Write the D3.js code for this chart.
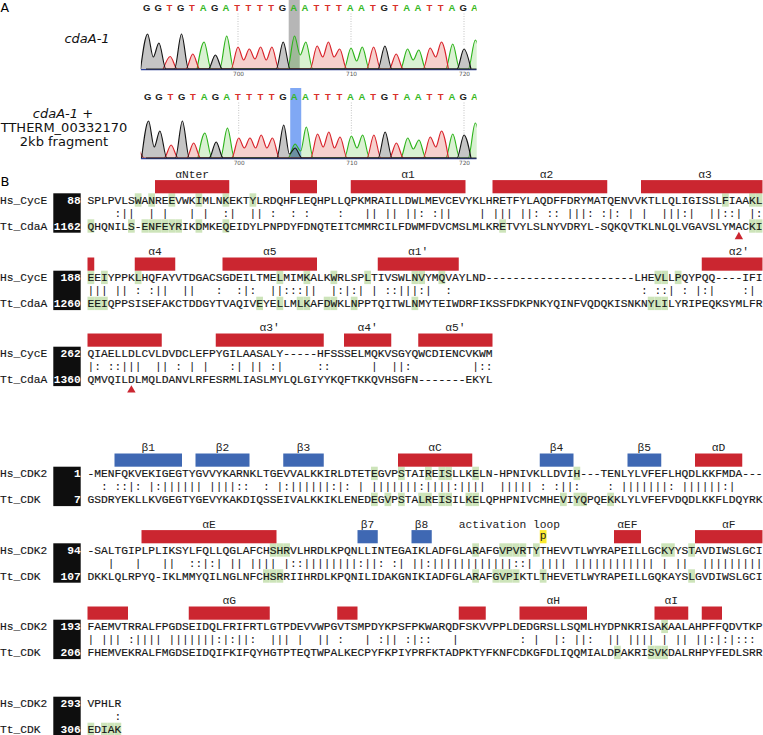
<!DOCTYPE html>
<html><head><meta charset="utf-8">
<script src="https://cdn.jsdelivr.net/npm/d3@7"></script>
<style>
html,body{margin:0;padding:0;background:#fff}
svg{display:block}
text{white-space:pre}
</style></head><body><svg id="c" width="763" height="735"></svg>
<script>
// ---------- Panel A data ----------
const firstBase = 692;
const baseCalls = "GGTGTAGATTTTGAATTTAATGTAATTAGA";
const heightsTop = [35,26,12.5,35,15,27,14,33,22,20,22,22,27,33,27,23,27,20,21,22,22,23,15,20,19,21,27,25,20,29];
const valleysTop = [12,0,0,0,0,0,0,0,9,10,9,0,0,14,0,12,12,0,8,0,0,0,0,9,0,12,0,0,0,0];
const heightsBottom = [37,27,13,37,15,25,16,30,20,20,23,20,33,14,31,24,26,21,22,23,23,26,15,20,18,21,27,24,23,35];
const valleysBottom = [11,0,0,0,0,0,0,0,10,10,10,0,4,7,0,11,10,0,10,0,0,0,0,9,0,11,0,0,0,0];
const extraBottom = [{base:705,call:"G",h:10},{base:691,call:"T",h:9}];
const sangerTicks = [700,710,720];

// ---------- Panel B data ----------
const hsCycE1="SPLPVLSWANREEVWKIMLNKEKTYLRDQHFLEQHPLLQPKMRAILLDWLMEVCEVYKLHRETFYLAQDFFDRYMATQENVVKTLLQLIGISSLFIAAKL";
const cons1  ="    :||  | |   | |  :|  || :  : :    :   || || ||: :||    | ||| ||: :: |||: :|: | |  |||:|  ||::| |:";
const ttCdaA1="QHQNILS-ENFEYRIKDMKEQEIDYLPNPDYFDNQTEITCMMRCILFDWMFDVCMSLMLKRETVYLSLNYVDRYL-SQKQVTKLNLQLVGAVSLYMACKI";
const hsCycE2="EEIYPPKLHQFAYVTDGACSGDEILTMELMIMKALKWRLSPLTIVSWLNVYMQVAYLND----------------------LHEVLLPQYPQQ----IFI";
const cons2  ="||| || : :||  ||   :  :|:  ||:::||  |:|:| | ::|||:|  :                            : ::| : |:|    :| ";
const ttCdaA2="EEIQPPSISEFAKCTDDGYTVAQIVEYELLMLKAFDWKLNPPTQITWLNMYTEIWDRFIKSSFDKPNKYQINFVQDQKISNKNYLILYRIPEQKSYMLFR";
const hsCycE3="QIAELLDLCVLDVDCLEFPYGILAASALY-----HFSSSELMQKVSGYQWCDIENCVKWM";
const cons3  ="|: ::|||  || : | |   :| || :|     ::      |  ||:         |::";
const ttCdaA3="QMVQILDLMQLDANVLRFESRMLIASLMYLQLGIYYKQFTKKQVHSGFN-------EKYL";
const hsCDK1="-MENFQKVEKIGEGTYGVVYKARNKLTGEVVALKKIRLDTETEGVPSTAIREISLLKELN-HPNIVKLLDVIH---TENLYLVFEFLHQDLKKFMDA---";
const consK1="  : ::|: |:|||||| ||||::  : |:||||||:|: | |||||||:||||:||||  ||||| : :||:    : |||||||: ||||||:|    ";
const ttCDK1="GSDRYEKLLKVGEGTYGEVYKAKDIQSSEIVALKKIKLENEDEGVPSTALREISILKELQPHPNIVCMHEVIYQPQEKKLYLVFEFVDQDLKKFLDQYRK";
const hsCDK2="-SALTGIPLPLIKSYLFQLLQGLAFCHSHRVLHRDLKPQNLLINTEGAIKLADFGLARAFGVPVRTYTHEVVTLWYRAPEILLGCKYYSTAVDIWSLGCI";
const consK2="   |   |   ||  ::|:| || |||| |::||||||||:||: :| ||:||||||||||||::| |||| |||||||||||| | ||  |||||||||";
const ttCDK2="DKKLQLRPYQ-IKLMMYQILNGLNFCHSRRIIHRDLKPQNILIDAKGNIKIADFGLARAFGVPIKTLTHEVETLWYRAPEILLGQKAYSLGVDIWSLGCI";
const hsCDK3="FAEMVTRRALFPGDSEIDQLFRIFRTLGTPDEVVWPGVTSMPDYKPSFPKWARQDFSKVVPPLDEDGRSLLSQMLHYDPNKRISAKAALAHPFFQDVTKP";
const consK3="| ||| :|||| |||||||:|:||:  ||| |  || :   | :|| :|::   |         : |  |: ||:  || |||| | || ||:|:|:::";
const ttCDK3="FHEMVEKRALFMGDSEIDQIFKIFQYHGTPTEQTWPALKECPYFKPIYPRFKTADPKTYFKNFCDKGFDLIQQMIALDPAKRISVKDALRHPYFEDLSRR";
const hsCDK4="VPHLR", consK4="    :", ttCDK4="EDIAK";

const blockNames = [["Hs_CycE","Tt_CdaA"],["Hs_CycE","Tt_CdaA"],["Hs_CycE","Tt_CdaA"],["Hs_CDK2","Tt_CDK"],["Hs_CDK2","Tt_CDK"],["Hs_CDK2","Tt_CDK"],["Hs_CDK2","Tt_CDK"]];
const startNumbers = [[88,1162],[188,1260],[262,1360],[1,7],[94,107],[193,206],[293,306]];
const upperSeqs = [hsCycE1,hsCycE2,hsCycE3,hsCDK1,hsCDK2,hsCDK3,hsCDK4];
const middleSeqs = [cons1,cons2,cons3,consK1,consK2,consK3,consK4];
const lowerSeqs = [ttCdaA1,ttCdaA2,ttCdaA3,ttCDK1,ttCDK2,ttCDK3,ttCDK4];

// secondary structure: [row, first column, end column, type, label, label column]
const structure = [
 [0,10,21,"a","αNter",15.5],[0,30,34,"a","",0],[0,39,56,"a","α1",47.5],[0,60,77,"a","α2",68],[0,82,100,"a","α3",91.5],
 [1,0,1,"a","",0],[1,7,13,"a","α4",10],[1,20,34,"a","α5",27],[1,43,55,"a","α1′",49],[1,91,100,"a","α2′",96.5],
 [2,0,11,"a","",0],[2,19,35,"a","α3′",27],[2,38,45,"a","α4′",41.5],[2,49,60,"a","α5′",54.5],
 [3,4,14,"b","β1",9],[3,16,24,"b","β2",20],[3,29,35,"b","β3",32],[3,46,57,"a","αC",51.5],[3,67,72,"b","β4",69.5],[3,80,85,"b","β5",82.5],[3,90,97,"a","αD",93.5],
 [4,8,28,"a","αE",18],[4,40,43,"b","β7",41.5],[4,48,51,"b","β8",49.5],[4,78,82,"a","αEF",80],[4,90,100,"a","αF",95],
 [5,0,6,"a","",0],[5,15,27,"a","αG",21],[5,37,40,"a","",0],[5,55,59,"a","",0],[5,64,74,"a","αH",69],[5,84,89,"a","αI",86.5],[5,91,94,"a","",0]
];
// highlighted residues: row -> columns
const hlUpper = [
 [7,9,12,16,20,24,94,98,99],
 [0,2,7,28,32,36,41,48,49,52,84,85,87],
 [],
 [42,46,50,52,53,57,72],
 [27,28,29,57,61,62,63,64,66,85,86,89],
 [85],
 []
];
const hlLower = [
 [0,6,8,9,10,11,12,13,16,20,61,98,99],
 [0,1,2,25,28,31,32,35,36,39,48,83,84,85],
 [],
 [42,44,46,49,50,52,53,56,57,70,72,73,77],
 [26,27,28,57,60,61,62,63,67,89],
 [78,83,84,85],
 [0,2,3,4]
];
const markerCols = [[0,96],[2,6]];
const activationLoop = {row:4,col:67,text:"activation loop",labelCol:62.5,site:"p"};

// ---------- Colours & layout ----------
const RED="#cb2630", BLUE="#3f68b3", GREEN="#cde4ba", YEL="#fbe92e";
const MONO='"Liberation Mono",monospace', SANS='"DejaVu Sans",sans-serif';
const FS=11.25;
const rowTops=[193.3,270.7,346.7,466.7,543.3,619.7,696.7];

const svg=d3.select("#c");
svg.append("rect").attr("width",763).attr("height",735).attr("fill","#fff");
const col=d3.scaleLinear().domain([0,100]).range([87.5,762.5]);

// ---- panel letters ----
svg.append("text").attr("x",0.5).attr("y",11.8).attr("font-family",SANS).attr("font-size",12.5).text("A");
svg.append("text").attr("x",0.5).attr("y",186).attr("font-family",SANS).attr("font-size",13).text("B");

// ---- panel A ----
const sideLabels=[
 {t:"cdaA-1",x:87,y:43,i:true},
 {t:"cdaA-1 +",x:63,y:117.5,i:true},
 {t:"TTHERM_00332170",x:64,y:131.5,i:false},
 {t:"2kb fragment",x:64,y:145.5,i:false}];
svg.selectAll("text.side").data(sideLabels).join("text").attr("class","side")
 .attr("x",d=>d.x).attr("y",d=>d.y).attr("text-anchor","middle")
 .attr("font-family",SANS).attr("font-size",13).attr("font-style",d=>d.i?"italic":"normal").attr("fill","#111")
 .each(function(d){
   if(d.t==="cdaA-1 +"){d3.select(this).text(null);
     d3.select(this).append("tspan").attr("font-style","italic").text("cdaA-1");
     d3.select(this).append("tspan").attr("font-style","normal").text(" +");}
   else d3.select(this).text(d.t);});

const defs=svg.append("defs");
const chanStyle={G:{s:"#151515",f:"rgba(90,90,90,.35)"},T:{s:"#d9232b",f:"rgba(222,80,70,.27)"},A:{s:"#2cb31a",f:"rgba(80,190,50,.22)"}};
const letterCol={G:"#222",T:"#d9302b",A:"#35b81f"};
function sanger(cfg){
  const x=d3.scaleLinear().domain([700,720]).range(cfg.xr);
  const y=d3.scaleLinear().domain([0,40]).range([cfg.base,cfg.base-40]);
  const clipId="clip"+cfg.id;
  defs.append("clipPath").attr("id",clipId).append("rect").attr("x",140.7).attr("y",cfg.letterY-12).attr("width",336).attr("height",cfg.base-cfg.letterY+14);
  const g=svg.append("g").attr("clip-path",`url(#${clipId})`);
  g.append("rect").attr("x",x(705)-cfg.barL).attr("width",cfg.barW).attr("y",cfg.barTop).attr("height",cfg.base-cfg.barTop)
   .attr("fill",cfg.barFill);
  g.selectAll("line.dot").data(sangerTicks).join("line").attr("x1",x).attr("x2",x).attr("y1",cfg.letterY+3).attr("y2",cfg.base-24)
   .attr("stroke","#aaa").attr("stroke-width",.7).attr("stroke-dasharray","1 1.5");
  g.selectAll("text.call").data(Array.from(baseCalls)).join("text").attr("class","call")
   .attr("x",(d,i)=>x(firstBase+i)-0.8).attr("y",cfg.letterY).attr("text-anchor","middle")
   .attr("font-family",'"Liberation Sans",sans-serif').attr("font-weight","bold").attr("font-size",9.5).attr("fill",d=>letterCol[d]).text(d=>d);
  const peaks=Array.from(baseCalls).map((c,i)=>({base:firstBase+i,call:c,h:cfg.h[i],v:cfg.v[i]})).concat(cfg.extra||[]);
  const area=d3.area().x(d=>x(d[0])).y0(y(0)).y1(d=>y(d[1])).curve(d3.curveMonotoneX);
  const line=area.lineY1();
  const foot=0.62;
  ["A","T","G"].forEach(ch=>{
    const ps=peaks.filter(p=>p.call===ch).sort((a,b)=>a.base-b.base);
    const pts=[];
    ps.forEach((p,k)=>{
      const prev=ps[k-1], next=ps[k+1];
      if(!prev||prev.base!==p.base-1) pts.push([p.base-foot,0]);
      pts.push([p.base,p.h]);
      if(next&&next.base===p.base+1) pts.push([p.base+.5,Math.max(p.v||cfg.defV,0)]);
      else pts.push([p.base+foot,0]);
    });
    g.append("path").attr("d",area(pts)).attr("fill",chanStyle[ch].f).attr("stroke","none");
    g.append("path").attr("d",line(pts)).attr("fill","none").attr("stroke",chanStyle[ch].s).attr("stroke-width",1.15);
  });
  g.append("line").attr("x1",140.7).attr("x2",476.7).attr("y1",y(0)+.6).attr("y2",y(0)+.6).attr("stroke","#2a3f9a").attr("stroke-width",1.2);
  g.append("line").attr("x1",146).attr("x2",476.7).attr("y1",y(0)).attr("y2",y(0)).attr("stroke","#222").attr("stroke-width",1);
  const ax=svg.append("g").attr("transform",`translate(0,${cfg.base+1})`)
   .call(d3.axisBottom(x).tickValues(sangerTicks).tickSize(0).tickPadding(2).tickFormat(d3.format("d")));
  ax.select(".domain").remove();
  ax.selectAll("text").attr("font-family",SANS).attr("font-size",5.8).attr("fill","#555");
}
sanger({id:"a",xr:[238,464],base:69,letterY:10.5,barTop:0,barL:5.8,barW:11,barFill:"#b6b6b6",h:heightsTop,v:valleysTop,defV:4});
sanger({id:"b",xr:[238.7,464],base:158,letterY:99.5,barTop:88,barL:4.8,barW:11,barFill:"#80a8f4",h:heightsBottom,v:valleysBottom,extra:extraBottom,defV:4});

// ---- panel B ----
const rows=d3.range(rowTops.length).map(i=>({i,T:rowTops[i],names:blockNames[i],nums:startNumbers[i],up:upperSeqs[i],mid:middleSeqs[i],lo:lowerSeqs[i]}));
const rg=svg.append("g").attr("font-family",MONO).attr("font-size",FS).attr("fill","#161616");
rows.forEach(r=>{
  const g=rg.append("g");
  const cw=col(1)-col(0);
  g.selectAll("rect.hu").data(hlUpper[r.i]).join("rect").attr("x",d=>col(d)).attr("width",cw).attr("y",r.T).attr("height",13.4).attr("fill",GREEN);
  g.selectAll("rect.hl").data(hlLower[r.i]).join("rect").attr("x",d=>col(d)).attr("width",cw).attr("y",r.T+26).attr("height",13.4).attr("fill",GREEN);
  g.append("rect").attr("x",53.3).attr("width",27.4).attr("y",r.T).attr("height",39.4).attr("fill","#0e0e0e");
  [[r.names[0],r.nums[0],r.up,10.7],[r.names[1],r.nums[1],r.lo,36.7]].forEach(([n,num,seq,dy])=>{
    g.append("text").attr("x",0).attr("y",r.T+dy).attr("stroke","#161616").attr("stroke-width",.15).text(n);
    g.append("text").attr("x",80.7).attr("y",r.T+dy).attr("text-anchor","end").attr("fill","#fff").attr("font-weight","bold").text(num);
    g.append("text").attr("x",col(0)).attr("y",r.T+dy).attr("stroke","#161616").attr("stroke-width",.15).text(seq);
  });
  g.append("text").attr("x",col(0)).attr("y",r.T+23.2).text(r.mid);
});
svg.append("g").selectAll("rect").data(structure).join("rect")
 .attr("x",d=>col(d[1])).attr("width",d=>col(d[2])-col(d[1]))
 .attr("y",d=>rowTops[d[0]]-13.2).attr("height",13.2)
 .attr("fill",d=>d[3]==="a"?RED:BLUE);
svg.append("g").attr("font-family",MONO).attr("font-size",FS).attr("fill","#222").attr("text-anchor","middle")
 .selectAll("text").data(structure.filter(d=>d[4])).join("text")
 .attr("x",d=>col(d[5])).attr("y",d=>rowTops[d[0]]-15.4).text(d=>d[4]);
svg.append("text").attr("font-family",MONO).attr("font-size",FS).attr("fill","#222").attr("text-anchor","middle")
 .attr("x",col(activationLoop.labelCol)).attr("y",rowTops[activationLoop.row]-15.4).text(activationLoop.text);
svg.append("rect").attr("x",col(activationLoop.col)).attr("width",col(1)-col(0)).attr("y",rowTops[activationLoop.row]-13.2).attr("height",13.2).attr("fill",YEL);
svg.append("text").attr("font-family",MONO).attr("font-size",FS).attr("fill","#222").attr("text-anchor","middle")
 .attr("x",col(activationLoop.col+.5)).attr("y",rowTops[activationLoop.row]-4).text(activationLoop.site);
const tri=d3.symbol().type(d3.symbolTriangle).size(31);
svg.append("g").selectAll("path").data(markerCols).join("path").attr("d",tri)
 .attr("transform",d=>`translate(${col(d[1]+.5)},${rowTops[d[0]]+43.4})`).attr("fill",RED);
</script></body></html>
